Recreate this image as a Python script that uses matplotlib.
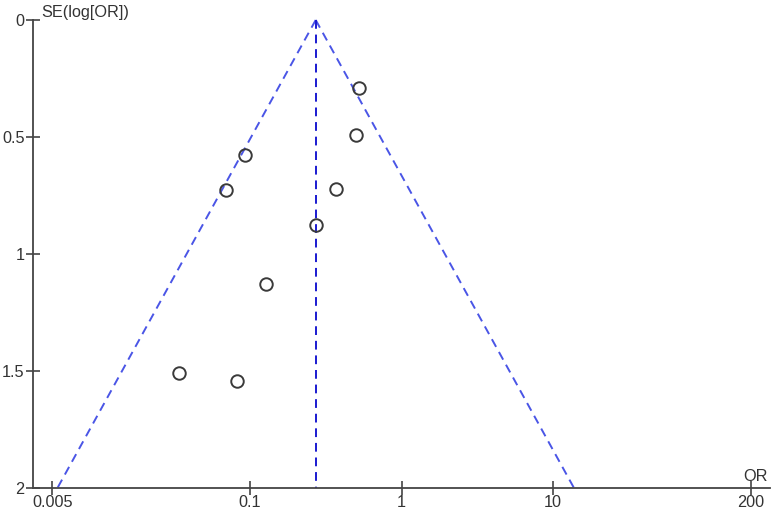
import numpy as np
import matplotlib
matplotlib.use("Agg")
import matplotlib.pyplot as plt

# Data
odds_ratio = [0.527, 0.499, 0.0929, 0.070, 0.368, 0.272, 0.128, 0.034, 0.0823]
se_log_or = [0.291, 0.490, 0.576, 0.728, 0.724, 0.876, 1.128, 1.510, 1.541]
pooled_or = 0.272
x_ticks = [0.005, 0.1, 1, 10, 200]
x_tick_labels = ["0.005", "0.1", "1", "10", "200"]
y_ticks = [0, 0.5, 1, 1.5, 2]
y_tick_labels = ["0", "0.5", "1", "1.5", "2"]

plt.rcParams['font.family'] = ['Liberation Sans', 'DejaVu Sans']

W, H = 774, 513
fig = plt.figure(figsize=(W / 100, H / 100), dpi=100)
left, right, top, bottom = 33, 770, 20, 488
ax = fig.add_axes([left / W, (H - bottom) / H, (right - left) / W, (bottom - top) / H])

ax.set_xscale('log')
ax.set_xlim(10 ** -2.429, 10 ** 2.429)
ax.set_ylim(2, 0)

# Funnel (95% pseudo confidence limits)
se_line = np.array([0.0, 2.0])
lo = np.exp(np.log(pooled_or) - 1.96 * se_line)
hi = np.exp(np.log(pooled_or) + 1.96 * se_line)
ax.plot(lo, se_line, color='#4a55e6', lw=1.4, dashes=(4.5, 3), clip_on=False)
ax.plot(hi, se_line, color='#4a55e6', lw=1.4, dashes=(4.5, 3), clip_on=False)
ax.plot([pooled_or, pooled_or], [0, 2], color='#1a1ad0', lw=1.4, dashes=(4.5, 3), clip_on=False)

ax.plot(odds_ratio, se_log_or, linestyle='none', marker='o', markersize=9.0,
        markerfacecolor='none', markeredgecolor='#3a3a3a', markeredgewidth=1.4)

for s in ['top', 'right']:
    ax.spines[s].set_visible(False)
for s in ['left', 'bottom']:
    ax.spines[s].set_color('#444444')
    ax.spines[s].set_linewidth(1.3)

ax.set_xticks(x_ticks)
ax.set_xticklabels(x_tick_labels)
ax.xaxis.set_minor_locator(matplotlib.ticker.NullLocator())
ax.set_yticks(y_ticks)
ax.set_yticklabels(y_tick_labels)
ax.tick_params(direction='inout', length=10, width=1.2, color='#444444',
               labelsize=11.7, labelcolor='#333333', pad=1)
ax.tick_params(axis='x', pad=0)

ax.text(0.011, 1.0, 'SE(log[OR])', transform=ax.transAxes, fontsize=11.7,
        color='#333333', va='bottom', ha='left')
ax.text(0.981, 0.009, 'OR', transform=ax.transAxes, fontsize=11.7,
        color='#333333', va='bottom', ha='center')

fig.savefig('out.png', dpi=100, facecolor='white')
